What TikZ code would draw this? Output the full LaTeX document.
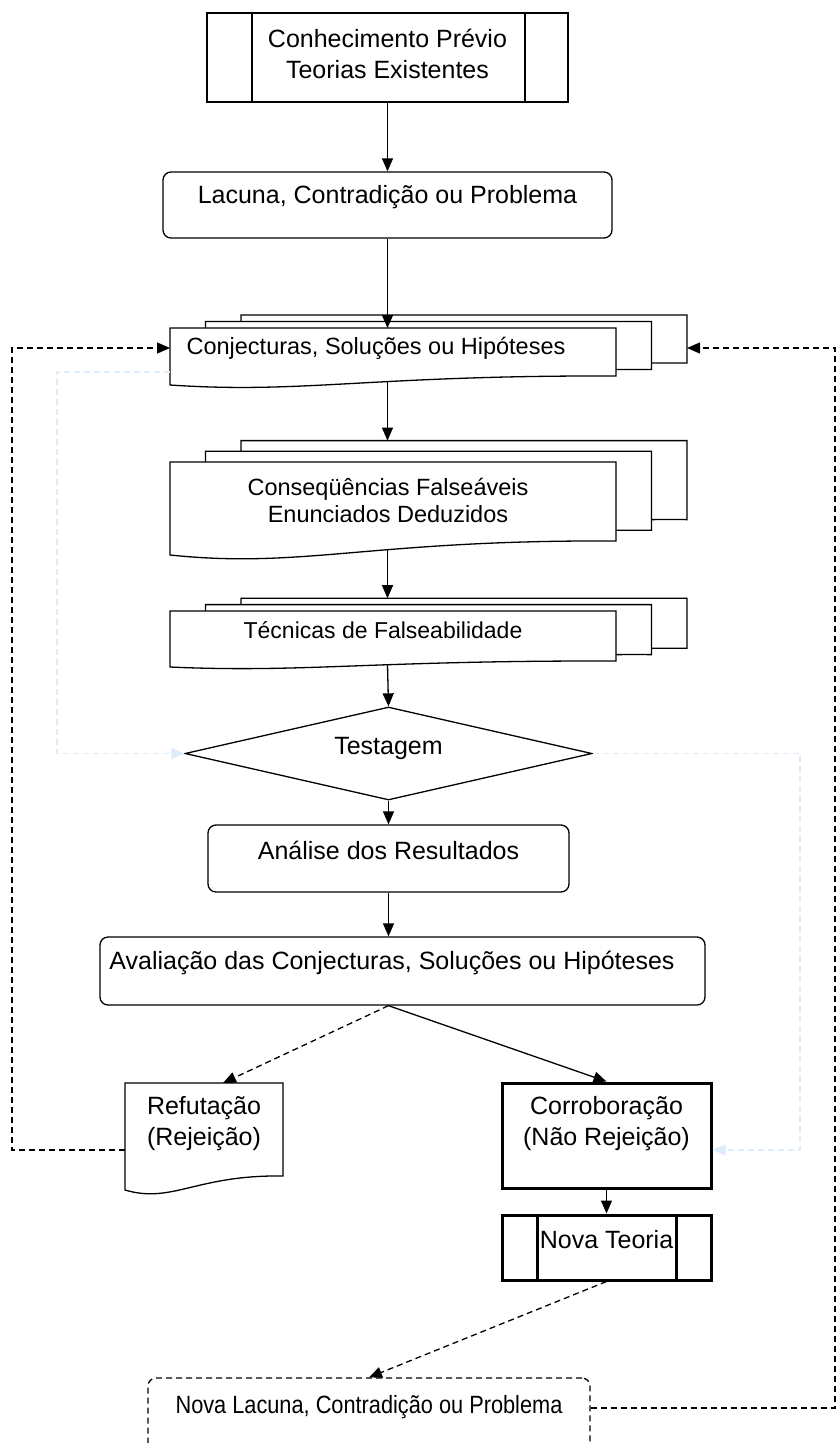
\documentclass[tikz,border=0pt]{standalone}
\usepackage{fontspec}
\setmainfont{Liberation Sans}
\usetikzlibrary{arrows.meta,calc,shapes.geometric}
\definecolor{lightline}{RGB}{222,236,250}
\newcommand\docshape[5]{% L R T B a
  \filldraw[fill=white] (#1,#3) -- (#2,#3) -- (#2,{(#4)-(#5)})
    .. controls ({(#1)+0.45*((#2)-(#1))},{(#4)-1.1*(#5)}) and ({(#1)+0.3*((#2)-(#1))},{(#4)+1.0*(#5)}) .. (#1,#4) -- cycle;}
\newcommand\stackdocs[7]{% L R T B a dx dy
  \begin{scope}[shift={({2*(#6)},{-2*(#7)})}]\docshape{#1}{#2}{#3}{#4}{#5}\end{scope}
  \begin{scope}[shift={(#6,{-(#7)})}]\docshape{#1}{#2}{#3}{#4}{#5}\end{scope}
  \docshape{#1}{#2}{#3}{#4}{#5}}
\begin{document}
\begin{tikzpicture}[x=1pt,y=-1pt,line width=1.3pt,
  arr/.style={-{Triangle[length=13pt,width=11pt]}},
  dsh/.style={dash pattern=on 6pt off 4pt},
  lbl/.style={font=\fontsize{25}{31}\selectfont,align=center,inner sep=0},
  slbl/.style={lbl,font=\fontsize{23.5}{27}\selectfont},
  box/.style={draw,fill=white,inner sep=0},
  rbox/.style={box,rounded corners=8pt},
  thick box/.style={box,line width=3pt},
  light/.style={draw=lightline,dsh}]
\useasboundingbox (0,0) rectangle (836,1443);

% ---------- top: Conhecimento previo
\node[box,minimum width=361,minimum height=89] (prev) at (387.5,57.5) {};
\draw (252,13) -- (252,102) (525,13) -- (525,102);
\node[lbl] (prevt) at (387.5,54) {Conhecimento Prévio\\Teorias Existentes};

% ---------- Lacuna
\node[rbox,minimum width=449,minimum height=66] (lac) at (387.5,205) {};
\node[lbl] (lact) at (387.5,197) {Lacuna, Contradição ou Problema};

% ---------- Conjecturas (stacked documents)
\stackdocs{170}{616}{328}{385}{9}{35.5}{6.5}
\coordinate (conjT) at (387.5,328);
\coordinate (conjB) at (387.5,381);
\coordinate (conjL) at (170,348);
\coordinate (conjLb) at (170,372);
\coordinate (conjR) at (687,348);
\node[slbl] (conjt) at (376,348) {Conjecturas, Soluções ou Hipóteses};

% ---------- Consequencias
\stackdocs{170}{616}{462}{555}{14}{35.5}{10.7}
\coordinate (consT) at (387.5,440.6);
\coordinate (consB) at (387.5,549);
\node[slbl] (const) at (388,500) {Conseqüências Falseáveis\\Enunciados Deduzidos};

% ---------- Tecnicas
\stackdocs{170}{616}{611}{667}{6}{35.5}{6.4}
\coordinate (tecT) at (387.5,598.2);
\coordinate (tecB) at (387.5,664.6);
\node[slbl,font=\fontsize{23}{27}\selectfont] (tect) at (383,630) {Técnicas de Falseabilidade};

% ---------- Testagem
\node[draw,fill=white,diamond,minimum width=407,minimum height=93,inner sep=0] (test) at (388.5,753.5) {};
\node[lbl] (testt) at (388.5,748) {Testagem};

% ---------- Analise
\node[rbox,minimum width=361,minimum height=67] (ana) at (388.5,858.5) {};
\node[lbl] (anat) at (388.5,850) {Análise dos Resultados};

% ---------- Avaliacao
\node[rbox,minimum width=605,minimum height=68] (aval) at (402.5,971) {};
\node[lbl] (avalt) at (392,963) {Avaliação das Conjecturas, Soluções ou Hipóteses};

% ---------- Refutacao (document)
\docshape{125}{283}{1083}{1190}{14}
\coordinate (refT) at (223,1083);
\coordinate (refL) at (125,1150);
\node[lbl] (reft) at (204,1124) {Refutação\\(Rejeição)};

% ---------- Corroboracao
\node[thick box,minimum width=209,minimum height=105] (cor) at (606.5,1135.5) {};
\node[lbl] (cort) at (606.5,1124) {Corroboração\\(Não Rejeição)};

% ---------- Nova Teoria
\node[thick box,minimum width=209,minimum height=65] (nt) at (606.5,1247.5) {};
\draw[line width=3pt] (537,1215) -- (537,1280) (676,1215) -- (676,1280);
\node[lbl] (ntt) at (606.5,1240) {Nova Teoria};

% ---------- Nova Lacuna (dashed)
\node[box,dsh,rounded corners=8pt,minimum width=442,minimum height=84] (nl) at (369,1420) {};
\node[lbl] (nlt) at (369,1407) {\scalebox{0.87}[1]{Nova Lacuna, Contradição ou Problema}};

% ---------- connectors
\draw[arr] (prev.south) -- (lac.north);
\draw[arr] (lac.south) -- (conjT);
\draw[arr] (conjB) -- (consT);
\draw[arr] (consB) -- (tecT);
\draw[arr] (tecB) -- (test.north);
\draw[arr] (test.south) -- (ana.north);
\draw[arr] (ana.south) -- (ana.south |- aval.north);
\draw[arr,dsh] (ana.south |- aval.south) -- (refT);
\draw[arr] (ana.south |- aval.south) -- (cor.north);
\draw[arr] (cor.south) -- (nt.north);
\draw[arr,dsh] (nt.south) -- (nl.north);

% feedback loops
\draw[arr,dsh] (refL) -- (12,1150) -- (12,348) -- (conjL);
\draw[arr,dsh] (nl.east |- 0,1408) -- (835,1408) -- (835,348) -- (conjR);
\draw[arr,light] (conjLb) -- (57,372) -- (57,753.5) -- (test.west);
\draw[arr,light] (test.east) -- (800,753.5) -- (800,1150) -- (cor.east |- 0,1150);
\end{tikzpicture}
\end{document}
